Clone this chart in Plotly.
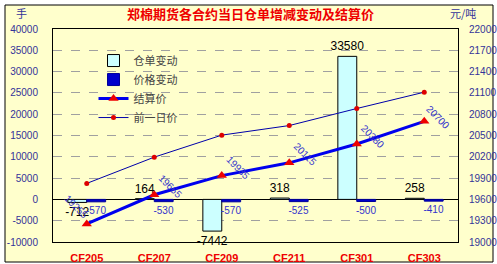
import plotly.graph_objects as go

categories = ["CF205", "CF207", "CF209", "CF211", "CF301", "CF303"]
warrant_change = [-712, 164, -7442, 318, 33580, 258]
price_change = [-570, -530, -570, -525, -500, -410]
settle_price = [19255, 19665, 19935, 20115, 20380, 20700]
prev_price = [19825, 20195, 20505, 20640, 20880, 21110]

left_ticks = list(range(-10000, 40001, 5000))
right_ticks = list(range(19000, 22001, 300))

# label offsets (style only) for settle price labels
label_dx = [-11, 16, 16, 16, 16, 14]
label_dy = [17, 8, 8, 8, 8, 4]

FONT = "Liberation Sans, Arial, sans-serif"
CJK = "Noto Sans CJK SC, sans-serif"
NAVY = "#333399"

fig = go.Figure()

fig.add_trace(go.Bar(
    x=categories, y=warrant_change, name="仓单变动",
    marker=dict(color="#CCFFFF", line=dict(color="black", width=1)),
    text=[str(v) for v in warrant_change], textposition="outside",
    textfont=dict(color="black", size=12, family=FONT),
    constraintext="none", cliponaxis=False,
))
fig.add_trace(go.Bar(
    x=categories, y=price_change, name="价格变动",
    marker=dict(color="#0000CC", line=dict(color="#000099", width=1)),
    text=[str(v) for v in price_change], textposition="outside",
    textfont=dict(color="#3333CC", size=10, family=FONT),
    constraintext="none", cliponaxis=False,
))
fig.add_trace(go.Scatter(
    x=categories, y=settle_price, name="结算价", yaxis="y2",
    mode="lines+markers",
    line=dict(color="#0000EE", width=3),
    marker=dict(symbol="triangle-up", color="#EE0000", size=9),
))
fig.add_trace(go.Scatter(
    x=categories, y=prev_price, name="前一日价", yaxis="y2",
    mode="lines+markers",
    line=dict(color="#0000AA", width=1),
    marker=dict(symbol="circle", color="#DD0000", size=5),
))

annotations = []
for c, v, dx, dy in zip(categories, settle_price, label_dx, label_dy):
    annotations.append(dict(
        x=c, y=v, xref="x", yref="y2", text=str(v), showarrow=False,
        textangle=45, xshift=dx, yshift=dy,
        font=dict(color="#3333CC", size=10, family=FONT),
    ))
annotations += [
    dict(text="郑棉期货各合约当日仓单增减变动及结算价", x=(250 - 53) / 405, y=(242 - 13) / 213,
         xref="paper", yref="paper", showarrow=False, yanchor="middle",
         font=dict(color="#EE0000", size=13, family=CJK, weight="bold")),
    dict(text="手", x=(14 - 53) / 405, y=(242 - 13) / 213, xref="paper", yref="paper",
         showarrow=False, yanchor="middle", font=dict(color=NAVY, size=11, family=CJK)),
    dict(text="元/吨", x=(478 - 53) / 405, y=(242 - 13) / 213, xref="paper", yref="paper",
         showarrow=False, yanchor="middle", font=dict(color=NAVY, size=11, family=CJK)),
]

shapes = [
    dict(type="rect", xref="paper", yref="paper",
         x0=(5 - 53) / 405, x1=(493 - 53) / 405,
         y0=(242 - 262) / 213, y1=(242 - 5) / 213,
         fillcolor="#FFFFCC", line=dict(color="black", width=1), layer="below"),
]

fig.update_layout(
    width=497, height=264,
    margin=dict(l=53, r=39, t=29, b=22, autoexpand=False),
    paper_bgcolor="white", plot_bgcolor="#FFFFCC",
    barmode="group", bargap=0.44, bargroupgap=0,
    showlegend=True,
    legend=dict(x=0.10, y=0.92, xanchor="left", yanchor="top",
                bgcolor="rgba(0,0,0,0)", font=dict(color="#444444", size=11, family=CJK),
                tracegroupgap=0),
    annotations=annotations, shapes=shapes,
    xaxis=dict(type="category", categoryarray=categories, range=[-0.5, 5.5],
               showline=True, linecolor="black", mirror=True, showgrid=False,
               ticks="", ticklabelstandoff=6, automargin=False,
               tickfont=dict(color="#EE0000", size=11, family=FONT, weight="bold")),
    xaxis2=dict(overlaying="x", anchor="free", position=0.2, range=[-0.5, 5.5],
                tickmode="array", tickvals=[i - 0.5 for i in range(7)],
                ticks="outside", ticklen=4, tickcolor="black", automargin=False,
                showticklabels=False, showline=False, showgrid=False, zeroline=False),
    yaxis=dict(range=[-10000, 40000], tickmode="array", tickvals=left_ticks,
               ticktext=[str(t) for t in left_ticks], automargin=False,
               showgrid=True, gridcolor="#A0A0A0", griddash="dash", gridwidth=1,
               zeroline=True, zerolinecolor="black", zerolinewidth=1,
               showline=True, linecolor="black", ticklabelstandoff=12,
               tickfont=dict(color=NAVY, size=10, family=FONT), ticks=""),
    yaxis2=dict(range=[19000, 22000], tickmode="array", tickvals=right_ticks,
                ticktext=[str(t) for t in right_ticks], overlaying="y", side="right",
                showgrid=False, zeroline=False, showline=True, linecolor="black",
                ticks="", ticklabelstandoff=8, automargin=False,
                tickfont=dict(color=NAVY, size=10, family=FONT)),
)

fig.write_html("out.html")
